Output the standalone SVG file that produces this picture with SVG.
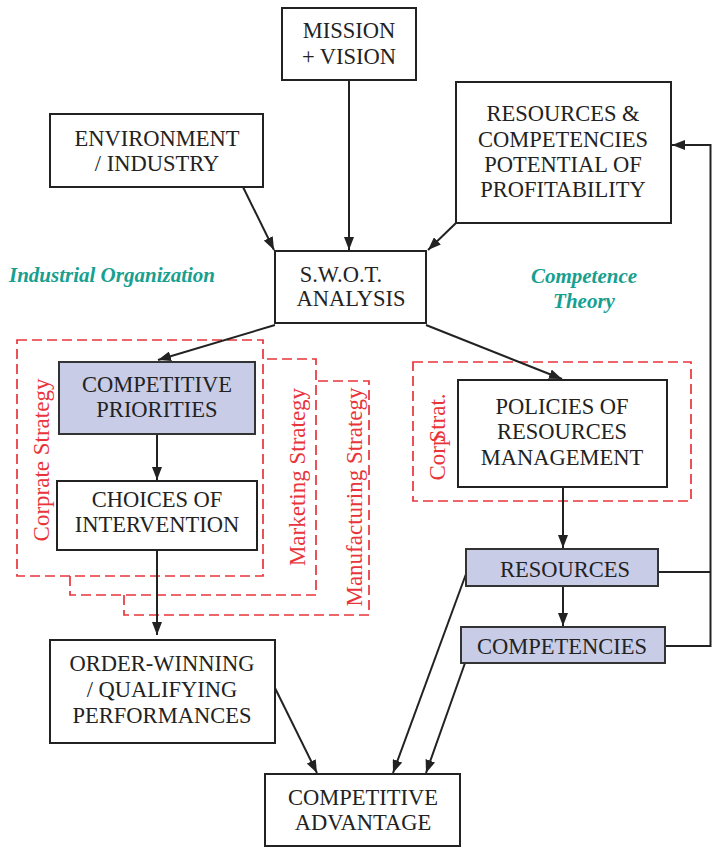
<svg xmlns="http://www.w3.org/2000/svg" width="712" height="847" viewBox="0 0 712 847">
<style>
.box{fill:#fff;stroke:#222;stroke-width:2}
.hl{fill:#c8cce6;stroke:#333;stroke-width:2}
.t{font-family:"Liberation Serif","Times New Roman",serif;font-size:22.5px;fill:#222;text-anchor:middle}
.red{font-family:"Liberation Serif","Times New Roman",serif;font-size:23px;fill:#e8343a;text-anchor:middle}
.teal{font-family:"Liberation Serif","Times New Roman",serif;font-size:21px;font-weight:bold;font-style:italic;fill:#17a090;text-anchor:middle}
.dash{fill:none;stroke:#e8343a;stroke-width:1.7;stroke-dasharray:10,5}
.c{fill:none;stroke:#222;stroke-width:2}
.a{fill:none;stroke:#222;stroke-width:2;marker-end:url(#ah)}
</style>
<defs>
<marker id="ah" markerUnits="userSpaceOnUse" markerWidth="14" markerHeight="10" refX="13" refY="5" orient="auto">
<path d="M0,0 L13,5 L0,10 z" fill="#222"/>
</marker>
</defs>
<rect width="712" height="847" fill="#fff"/>

<g id="frames">
<path class="dash" d="M70,576 V595 H316 V359 H263"/>
<path class="dash" d="M124,595 V615 H369 V381 H316"/>
<rect class="dash" x="17" y="340" width="246" height="236"/>
<rect class="dash" x="413" y="362" width="278" height="139"/>
<text class="red" transform="rotate(-90,49,460)" x="49" y="460">Corprate Strategy</text>
<text class="red" transform="rotate(-90,305,477)" x="305" y="477">Marketing Strategy</text>
<text class="red" transform="rotate(-90,362,497)" x="362" y="497">Manufacturing Strategy</text>
<text class="red" transform="rotate(-90,445,437)" x="445" y="437">Corp<tspan dx="-8">Strat.</tspan></text>
</g>

<g id="labels">
<text class="teal" x="112" y="282">Industrial Organization</text>
<text class="teal" x="584" y="283">Competence</text>
<text class="teal" x="584" y="308">Theory</text>
</g>

<g id="connectors">
<line class="a" x1="349" y1="80" x2="349" y2="250"/>
<line class="a" x1="243" y1="187" x2="274" y2="250"/>
<line class="a" x1="456" y1="223" x2="428" y2="250"/>
<polyline class="a" points="665,646 710.5,646 710.5,145 672,145"/>
<polyline class="c" points="658,572 710.5,572"/>
<line class="a" x1="275" y1="325" x2="158" y2="360"/>
<line class="a" x1="426" y1="325" x2="562" y2="379"/>
<line class="a" x1="157" y1="434" x2="157" y2="480"/>
<line class="a" x1="157" y1="550" x2="157" y2="635"/>
<line class="a" x1="563" y1="487" x2="563" y2="548"/>
<line class="a" x1="563" y1="586" x2="563" y2="626"/>
<line class="a" x1="275" y1="688" x2="317" y2="773"/>
<line class="a" x1="466" y1="574" x2="393" y2="773"/>
<line class="a" x1="465" y1="663" x2="426" y2="773"/>
</g>

<g id="mission">
<rect class="box" x="282" y="8" width="134" height="72"/>
<text class="t" x="349" y="38">MISSION</text>
<text class="t" x="349" y="64">+ VISION</text>
</g>
<g id="environment">
<rect class="box" x="50" y="114" width="213" height="73"/>
<text class="t" x="157" y="146">ENVIRONMENT</text>
<text class="t" x="157" y="171">/ INDUSTRY</text>
</g>
<g id="resources-competencies">
<rect class="box" x="456" y="82" width="215" height="141"/>
<text class="t" x="563" y="121">RESOURCES &amp;</text>
<text class="t" x="563" y="147">COMPETENCIES</text>
<text class="t" x="563" y="172">POTENTIAL OF</text>
<text class="t" x="563" y="197">PROFITABILITY</text>
</g>
<g id="swot">
<rect class="box" x="275" y="251" width="151" height="72"/>
<text class="t" x="341" y="282">S.W.O.T.</text>
<text class="t" x="351" y="306">ANALYSIS</text>
</g>
<g id="competitive-priorities">
<rect class="hl" x="59" y="362" width="196" height="72"/>
<text class="t" x="157" y="392">COMPETITIVE</text>
<text class="t" x="157" y="417">PRIORITIES</text>
</g>
<g id="choices">
<rect class="box" x="57" y="481" width="200" height="69"/>
<text class="t" x="157" y="507">CHOICES OF</text>
<text class="t" x="157" y="532">INTERVENTION</text>
</g>
<g id="policies">
<rect class="box" x="458" y="380" width="209" height="107"/>
<text class="t" x="562" y="414">POLICIES OF</text>
<text class="t" x="562" y="439">RESOURCES</text>
<text class="t" x="562" y="465">MANAGEMENT</text>
</g>
<g id="resources">
<rect class="hl" x="466" y="549" width="192" height="37"/>
<text class="t" x="565" y="577">RESOURCES</text>
</g>
<g id="competencies">
<rect class="hl" x="461" y="627" width="204" height="36"/>
<text class="t" x="562" y="654">COMPETENCIES</text>
</g>
<g id="order-winning">
<rect class="box" x="50" y="640" width="225" height="103"/>
<text class="t" x="162" y="671">ORDER-WINNING</text>
<text class="t" x="162" y="697">/ QUALIFYING</text>
<text class="t" x="162" y="723">PERFORMANCES</text>
</g>
<g id="competitive-advantage">
<rect class="box" x="265" y="774" width="195" height="72"/>
<text class="t" x="363" y="805">COMPETITIVE</text>
<text class="t" x="363" y="830">ADVANTAGE</text>
</g>
</svg>
